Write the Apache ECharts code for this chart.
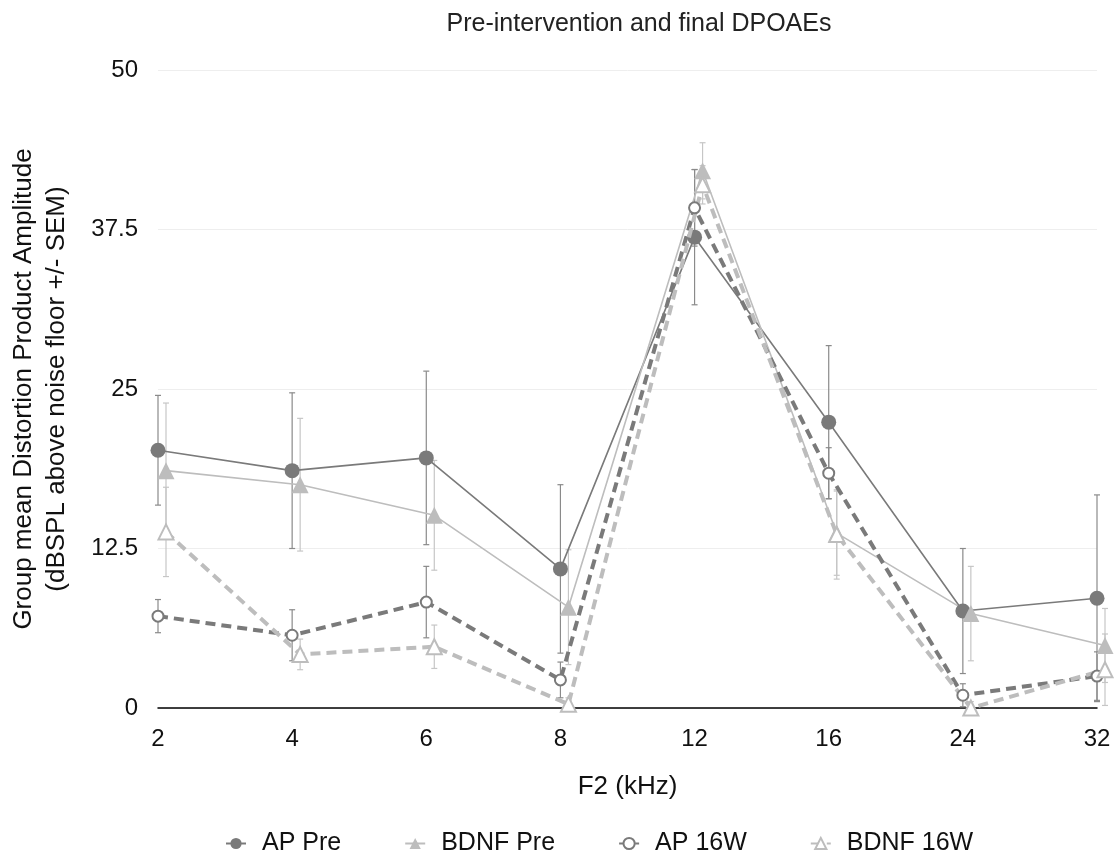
<!DOCTYPE html>
<html><head><meta charset="utf-8">
<script src="https://cdn.jsdelivr.net/npm/echarts@6/dist/echarts.min.js"></script>
<style>html,body{margin:0;padding:0;background:#fff}#c{width:1115px;height:856px}</style>
</head><body><div id="c"></div>
<script>
const categories = ['2','4','6','8','12','16','24','32'];
const yTicks = [0, 12.5, 25, 37.5, 50];
const apPre      = [20.2, 18.6, 19.6, 10.9, 36.9, 22.4, 7.6, 8.6];
const apPreSem   = [4.3, 6.1, 6.8, 6.6, 5.3, 6.0, 4.9, 8.1];
const bdnfPre    = [18.6, 17.5, 15.1, 7.9, 42.1, 13.7, 7.4, 4.9];
const bdnfPreSem = [5.3, 5.2, 4.3, 4.5, 2.2, 3.3, 3.7, 2.9];
const ap16       = [7.2, 5.7, 8.3, 2.2, 39.2, 18.4, 1.0, 2.5];
const ap16Sem    = [1.3, 2.0, 2.8, 1.4, 3.0, 2.0, 0.9, 1.9];
const bdnf16     = [13.8, 4.2, 4.8, 0.3, 41.0, 13.6, 0.0, 3.0];
const bdnf16Sem  = [3.5, 1.2, 1.7, 0.5, 1.5, 3.5, 0.5, 2.8];

const DARK = '#7a7a7a', LIGHT = '#bdbdbd';
const FONT = 'Liberation Sans';

function errData(vals, sems){ return vals.map((v,i)=>[i, v - sems[i], v + sems[i]]); }
function errSeries(name, vals, sems, color, axisIdx){
  return {
    type:'custom', name: name, xAxisIndex: axisIdx, yAxisIndex: axisIdx, z: 1, silent:true,
    data: errData(vals, sems),
    renderItem: function(params, api){
      const lo = api.coord([api.value(0), Math.max(api.value(1), 0)]);
      const hi = api.coord([api.value(0), api.value(2)]);
      const w = 3;
      const st = {stroke: color, lineWidth: 1.2};
      return {type:'group', children:[
        {type:'line', shape:{x1:lo[0], y1:lo[1], x2:hi[0], y2:hi[1]}, style: st},
        {type:'line', shape:{x1:hi[0]-w, y1:hi[1], x2:hi[0]+w, y2:hi[1]}, style: st},
        {type:'line', shape:{x1:lo[0]-w, y1:lo[1], x2:lo[0]+w, y2:lo[1]}, style: st}
      ]};
    }
  };
}

const chart = echarts.init(document.getElementById('c'));
const yBase = {type:'value', min:0, max:50, interval:12.5};
chart.setOption({
  animation:false,
  textStyle:{fontFamily: FONT},
  title:{text:'Pre-intervention and final DPOAEs', left:634, top:7, textAlign:'center',
    textStyle:{fontFamily:FONT, fontSize:25, fontWeight:'normal', color:'#222'}},
  legend:{top:826, left:220, itemGap:63, itemWidth:20, itemHeight:14,
    textStyle:{fontFamily:FONT, fontSize:25, color:'#111', padding:[0,0,0,11]},
    data:['AP Pre','BDNF Pre','AP 16W','BDNF 16W']},
  grid:[
    {left:158, right:18, top:70, bottom:148, outerBoundsMode:'none'},
    {left:166, right:10, top:70, bottom:148, outerBoundsMode:'none'}
  ],
  xAxis:[
    {type:'category', gridIndex:0, data:categories, boundaryGap:false,
     name:'F2 (kHz)', nameLocation:'middle', nameGap:66,
     nameTextStyle:{fontFamily:FONT, fontSize:26, color:'#111'},
     axisLine:{lineStyle:{color:'#000', width:1.5}}, axisTick:{show:false},
     axisLabel:{fontFamily:FONT, fontSize:24, color:'#111', margin:19},
     splitLine:{show:false}},
    {type:'category', gridIndex:1, data:categories, boundaryGap:false, show:false}
  ],
  yAxis:[
    Object.assign({gridIndex:0,
      name:'Group mean Distortion Product Amplitude\n(dBSPL above noise floor +/- SEM)',
      nameLocation:'middle', nameRotate:90, nameGap:85,
      nameTextStyle:{fontFamily:FONT, fontSize:26, color:'#111', lineHeight:33},
      axisLine:{show:false}, axisTick:{show:false},
      axisLabel:{fontFamily:FONT, fontSize:24, color:'#111', margin:20},
      splitLine:{lineStyle:{color:'#eeeeee', width:1}}}, yBase),
    Object.assign({gridIndex:1, show:false, splitLine:{show:false}}, yBase)
  ],
  series:[
    errSeries('AP Pre err', apPre, apPreSem, '#8a8a8a', 0),
    errSeries('AP 16W err', ap16, ap16Sem, '#8a8a8a', 0),
    errSeries('BDNF Pre err', bdnfPre, bdnfPreSem, '#c6c6c6', 1),
    errSeries('BDNF 16W err', bdnf16, bdnf16Sem, '#c6c6c6', 1),
    {name:'AP Pre', type:'line', xAxisIndex:0, yAxisIndex:0, data:apPre, z:3,
     symbol:'circle', symbolSize:15, itemStyle:{color:DARK},
     lineStyle:{color:DARK, width:1.6}},
    {name:'BDNF Pre', type:'line', xAxisIndex:1, yAxisIndex:1, data:bdnfPre, z:3,
     symbol:'triangle', symbolSize:17, itemStyle:{color:LIGHT},
     lineStyle:{color:LIGHT, width:1.6}},
    {name:'AP 16W', type:'line', xAxisIndex:0, yAxisIndex:0, data:ap16, z:4,
     symbol:'emptyCircle', symbolSize:11, itemStyle:{color:DARK, borderWidth:3.5},
     lineStyle:{color:DARK, width:4, type:[10,6]}},
    {name:'BDNF 16W', type:'line', xAxisIndex:1, yAxisIndex:1, data:bdnf16, z:4,
     symbol:'emptyTriangle', symbolSize:15, itemStyle:{color:LIGHT, borderWidth:3},
     lineStyle:{color:LIGHT, width:4, type:[10,6]}}
  ]
});
</script></body></html>
